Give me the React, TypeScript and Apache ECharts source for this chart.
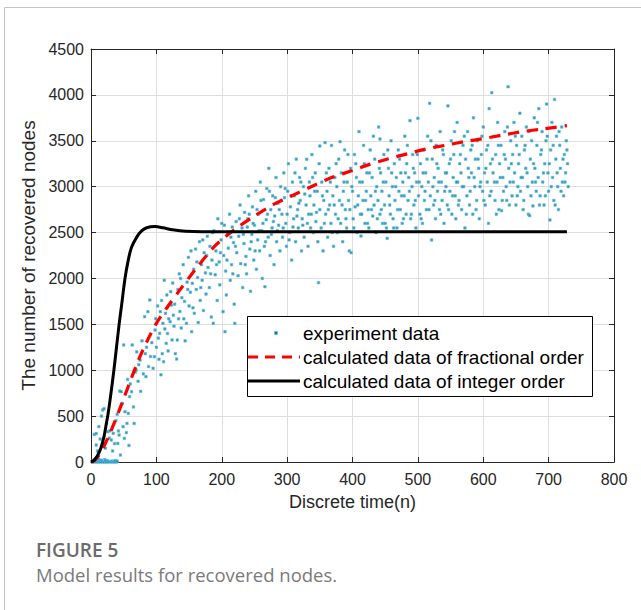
import React, { useEffect, useRef } from "react";
import * as echarts from "echarts";

const xTicks = [0, 100, 200, 300, 400, 500, 600, 700, 800];
const yTicks = [0, 500, 1000, 1500, 2000, 2500, 3000, 3500, 4000, 4500];

const legendLabels = [
  "experiment data",
  "calculated data of fractional order",
  "calculated data of integer order",
];

const captionTitle = "FIGURE 5";
const captionText = "Model results for recovered nodes.";

const fractionalCurve: [number, number][] = [
  [0, 0], [5, 15], [10, 55], [15, 110], [20, 175], [25, 250], [30, 330], [37, 450],
  [43, 560], [50, 690], [60, 880], [72, 1100], [85, 1305], [100, 1510], [118, 1700],
  [136, 1875], [160, 2100], [190, 2357], [220, 2535], [250, 2680], [280, 2810],
  [310, 2910], [340, 3010], [370, 3105], [400, 3175], [425, 3240], [455, 3305],
  [485, 3360], [512, 3410], [545, 3455], [575, 3495], [602, 3526], [630, 3563],
  [660, 3600], [690, 3628], [728, 3665],
];

const integerCurve: [number, number][] = [
  [0, 0], [5, 20], [10, 70], [15, 150], [20, 280], [23, 400], [26, 520], [30, 720],
  [35, 1000], [39, 1250], [43, 1500], [47, 1720], [52, 2000], [57, 2200], [62, 2340],
  [70, 2450], [77, 2515], [85, 2552], [98, 2565], [110, 2552], [125, 2530], [145, 2513],
  [170, 2508], [728, 2508],
];

const experimentData: [number, number][] = [
  [2, 0], [3, 10], [4, 0], [5, 25], [6, 5], [7, 40], [8, 0], [9, 15], [11, 0], [12, 30],
  [13, 10], [14, 0], [16, 20], [17, 0], [19, 5], [20, 0], [21, 25], [22, 10], [23, 0],
  [25, 15], [26, 0], [28, 5], [30, 0], [32, 10], [33, 0], [35, 5], [36, 0], [37, 15],
  [39, 0], [40, 10],
  [5, 300], [8, 185], [8, 310], [10, 120], [12, 385], [14, 250], [16, 500], [18, 567],
  [20, 581], [22, 150], [24, 420], [26, 330], [28, 260], [29, 341], [31, 240], [33, 120],
  [34, 312], [36, 200], [38, 450], [40, 520], [41, 203], [42, 338], [43, 294], [44, 773],
  [45, 76], [46, 766], [48, 640], [49, 385], [50, 1275], [51, 258], [52, 548], [54, 320],
  [55, 421], [56, 900], [57, 530], [58, 180], [59, 712], [60, 850], [62, 766], [63, 1275],
  [65, 600], [66, 420], [68, 980], [69, 1002], [70, 1200], [72, 880], [73, 1060],
  [75, 1111], [76, 770], [78, 1320], [80, 960], [82, 1583], [83, 1180], [84, 930],
  [85, 1250], [87, 1638], [88, 1040], [90, 1765], [91, 1150], [93, 1300], [95, 1021],
  [97, 1147], [98, 1438], [99, 1560], [100, 1250], [102, 1700], [104, 1120], [105, 1402],
  [106, 1638], [107, 950], [108, 1760], [110, 1511], [111, 1093], [112, 1980], [113, 1450],
  [115, 1293], [116, 1820], [118, 1210], [119, 1560], [121, 1529], [122, 1856], [124, 1330],
  [125, 1950], [126, 1600], [128, 1720], [129, 1180], [131, 1122], [132, 1329], [133, 1880],
  [135, 2050], [136, 1640], [138, 1460], [139, 1790], [141, 2150], [142, 1560], [144, 1320],
  [146, 1511], [147, 1960], [149, 2230], [150, 1700], [152, 1850], [154, 1420], [155, 1947],
  [157, 2100], [158, 1620], [160, 2320], [161, 1880], [163, 2010], [164, 1520], [166, 2400],
  [167, 1760], [169, 2150], [170, 1980], [172, 1650], [173, 2280], [175, 2060], [176, 1830],
  [178, 2460], [179, 2120], [181, 1900], [182, 2350], [184, 1580], [185, 2200], [187, 1511],
  [188, 2520], [190, 2040], [191, 2300], [193, 1760], [194, 2650], [196, 2180], [197, 1930],
  [199, 2420], [200, 2600], [202, 1638], [203, 2250], [205, 1420], [206, 2080], [207, 1820],
  [209, 2480], [210, 2330], [212, 2700], [213, 1980], [215, 2150], [216, 2560], [218, 2390],
  [219, 1720], [220, 1511], [222, 2620], [223, 2280], [225, 2030], [226, 2460], [228, 2800],
  [229, 2160], [231, 2550], [232, 1900], [234, 2380], [235, 2720], [237, 2240], [238, 2050],
  [240, 2650], [241, 2900], [243, 2320], [244, 1860], [246, 2480], [247, 2780], [249, 2200],
  [250, 2580], [252, 2950], [253, 2100], [255, 2420], [256, 2700], [258, 2300], [259, 3050],
  [261, 2520], [262, 2000], [264, 2860], [265, 2350], [266, 1910], [268, 2640], [269, 2980],
  [271, 2450], [272, 3200], [274, 2250], [275, 2750], [277, 2550], [278, 2900], [280, 2150],
  [281, 2680], [283, 3100], [284, 2400], [286, 2820], [287, 2580], [289, 2300], [290, 3000],
  [292, 2700], [293, 2450], [295, 3150], [296, 2880], [298, 2600], [299, 2350], [301, 2950],
  [302, 3250], [304, 2500], [305, 2780], [307, 2200], [308, 3050], [310, 2650], [311, 2900],
  [313, 2400], [314, 3300], [316, 2750], [317, 2550], [319, 3100], [320, 2850], [322, 2300],
  [323, 2650], [325, 3000], [326, 2450], [328, 3200], [329, 2800], [331, 2600], [332, 2350],
  [334, 3050], [335, 2900], [337, 2700], [338, 3350], [340, 2500], [341, 2800], [343, 3150],
  [344, 2620], [346, 2950], [347, 2400], [348, 1954], [349, 3250], [350, 2750], [352, 2550],
  [353, 3050], [355, 2300], [356, 2850], [358, 3480], [359, 2700], [361, 2950], [362, 2450],
  [364, 3200], [365, 2800], [367, 2600], [368, 3450], [370, 2900], [371, 2350], [373, 3100],
  [374, 2700], [376, 3000], [377, 2500], [379, 3300], [380, 2850], [382, 2600], [383, 3150],
  [385, 2400], [386, 2950], [388, 3400], [389, 2750], [391, 2550], [392, 3050], [394, 2850],
  [395, 2300], [397, 3200], [398, 2281], [400, 2950], [401, 2650], [403, 3350], [404, 2780],
  [406, 3100], [407, 2500], [409, 2900], [410, 3600], [412, 2700], [413, 2462], [415, 3050],
  [416, 2850], [418, 3250], [419, 2600], [421, 2950], [422, 3150], [424, 2750], [425, 2550],
  [427, 3400], [428, 2900], [430, 3100], [431, 2680], [433, 2800], [434, 3300], [436, 2500],
  [437, 3000], [439, 2850], [440, 3650], [442, 2700], [443, 3150], [445, 2950], [446, 2600],
  [448, 3350], [449, 2800], [451, 3050], [452, 2550], [453, 2437], [455, 3200], [456, 2900],
  [458, 2700], [459, 3500], [461, 3000], [462, 2650], [464, 3250], [465, 2850], [467, 3100],
  [468, 2550], [470, 3400], [471, 2950], [473, 2750], [474, 3150], [476, 2600], [477, 3050],
  [479, 2900], [480, 3550], [482, 2700], [483, 3250], [485, 2850], [486, 3100], [488, 3719],
  [489, 2650], [491, 3000], [492, 3350], [494, 2800], [495, 3150], [497, 2550], [498, 3050],
  [500, 3745], [501, 2900], [503, 2700], [504, 3250], [506, 3000], [507, 2600], [509, 3400],
  [510, 2850], [512, 3150], [513, 2750], [515, 3550], [516, 3050], [518, 3908], [519, 2900],
  [521, 2419], [522, 3300], [524, 2800], [525, 3100], [527, 2650], [528, 3450], [530, 2950],
  [531, 3200], [533, 2750], [534, 3600], [536, 3050], [537, 2850], [539, 3350], [540, 2600],
  [542, 3150], [543, 3000], [545, 2800], [546, 3880], [548, 3250], [549, 2950], [551, 3500],
  [552, 2700], [554, 3100], [555, 3350], [557, 2900], [558, 2650], [560, 3700], [561, 3050],
  [563, 2850], [564, 3250], [566, 3150], [567, 2750], [569, 3450], [570, 3000], [572, 2550],
  [573, 3300], [575, 2900], [576, 3600], [578, 3100], [579, 2800], [581, 3400], [582, 3150],
  [584, 2700], [585, 3750], [587, 3000], [588, 3300], [590, 2850], [591, 3500], [593, 3200],
  [594, 2650], [596, 3050], [597, 3350], [599, 2950], [600, 3650], [602, 3150], [603, 2800],
  [605, 3400], [606, 3050], [608, 2600], [609, 3850], [611, 3250], [612, 2950], [613, 4024],
  [615, 3150], [616, 3550], [618, 2850], [619, 3350], [621, 3050], [622, 3700], [624, 2750],
  [625, 3250], [627, 3450], [628, 2738], [630, 3100], [631, 2950], [633, 3600], [634, 3300],
  [636, 2850], [638, 4089], [639, 3200], [641, 3050], [642, 3500], [644, 2900], [645, 3350],
  [647, 3700], [648, 3150], [650, 2800], [651, 3450], [653, 3000], [654, 3250], [656, 3800],
  [657, 2950], [659, 3550], [660, 3100], [662, 2850], [663, 3400], [665, 3200], [666, 3650],
  [668, 3000], [669, 2700], [671, 2684], [672, 3300], [674, 3500], [675, 3050], [676, 2790],
  [678, 3750], [679, 3200], [681, 2950], [682, 3450], [684, 3100], [685, 3850], [687, 2900],
  [688, 3350], [690, 3600], [691, 3050], [693, 2800], [694, 3250], [696, 3500], [697, 3900],
  [699, 3150], [700, 2950], [702, 2637], [703, 3400], [705, 3700], [706, 3100], [708, 2850],
  [709, 3950], [711, 3300], [712, 3550], [714, 3000], [715, 2750], [717, 3450], [718, 3200],
  [720, 3650], [721, 3050], [723, 2900], [724, 3350], [726, 3150], [727, 3500], [729, 3250],
  [730, 3000],
];

const experimentDataExtra: [number, number][] = [
  [103, 1350], [109, 1180], [114, 1620], [117, 1400], [123, 1710], [127, 1480], [134, 1560],
  [137, 2000], [143, 1750], [148, 1880], [153, 2300], [156, 1680], [162, 2180], [168, 1900],
  [171, 2420], [177, 2250], [183, 2050], [186, 2500], [192, 2150], [198, 2280], [204, 2580],
  [208, 2200], [214, 2450], [217, 2050], [221, 2350], [227, 2650], [233, 2480], [236, 2150],
  [239, 2560], [242, 2700], [245, 2400], [248, 2600], [251, 2300], [254, 2750], [257, 2520],
  [260, 2850], [263, 2600], [267, 2400], [270, 2700], [273, 2950], [276, 2480], [279, 2620],
  [282, 2880], [285, 2520], [288, 2750], [291, 2850], [294, 2550], [297, 2980], [300, 2700],
  [303, 2420], [306, 2900], [309, 2560], [312, 3150], [315, 2680], [318, 2820], [321, 3050],
  [324, 2580], [327, 2920], [330, 3298], [333, 2700], [336, 2550], [339, 3100], [342, 2950],
  [345, 2720], [350, 3443], [354, 2900], [357, 2600], [360, 3150], [363, 2750], [366, 3050],
  [369, 2500], [372, 2800], [375, 3250], [378, 2650], [381, 3490], [384, 2800], [387, 3050],
  [390, 2650], [393, 3350], [396, 2750], [399, 3000], [402, 2550], [405, 3250], [408, 2800],
  [411, 3050], [414, 2700], [417, 3450], [420, 2850], [423, 2600], [426, 3150], [429, 2750],
  [432, 3550], [435, 2950], [438, 2650], [441, 3200], [442, 3519], [444, 2750], [447, 3050],
  [450, 2600], [454, 3400], [457, 2800], [460, 3150], [463, 2550], [466, 3000], [469, 2750],
  [472, 3300], [475, 2900], [478, 2650], [481, 3150], [484, 3450], [487, 2950], [490, 2700],
  [493, 3200], [496, 2850], [499, 3350], [502, 3050], [505, 2650], [508, 3150], [511, 2950],
  [514, 3300], [517, 2750], [520, 3500], [523, 3000], [526, 2850], [529, 3250], [532, 3050],
  [535, 2700], [538, 3400], [541, 2950], [544, 3150], [547, 2750], [550, 3300], [553, 2900],
  [556, 3600], [559, 3050], [562, 2800], [565, 3350], [568, 3000], [571, 3550], [574, 2700],
  [577, 3200], [580, 2950], [583, 3450], [586, 3100], [589, 2750], [592, 3300], [595, 3000],
  [598, 3550], [601, 2850], [604, 3200], [607, 3450], [610, 2900], [614, 3300], [617, 3050],
  [620, 2700], [623, 3450], [626, 3100], [629, 2850], [632, 3350], [635, 3000], [637, 3650],
  [640, 2800], [643, 3250], [646, 3050], [649, 3550], [652, 2900], [655, 3350], [658, 3100],
  [661, 2750], [664, 3450], [667, 3150], [670, 3600], [673, 2900], [677, 3250], [680, 3050],
  [683, 3700], [686, 2800], [689, 3400], [692, 3150], [695, 2900], [698, 3550], [701, 3250],
  [704, 3000], [707, 3450], [710, 2800], [713, 3150], [716, 3600], [719, 2950], [722, 3300],
  [725, 3050], [728, 3400],
];

const FONT = "Arial, 'Liberation Sans', Helvetica, sans-serif";
const CAPTION_FONT = "'Open Sans', 'Noto Sans', sans-serif";
const AXIS_COLOR = "#262626";
const POINT_FILL = "#236f9e";
const POINT_EDGE = "#52c4e2";

export default function App() {
  const ref = useRef<HTMLDivElement>(null);

  useEffect(() => {
    if (!ref.current) return;
    const chart = echarts.init(ref.current, null, { renderer: "svg" });

    const legendX = 247;
    const legendY = 316;
    const rowY = [333, 357, 381];

    const tickCommon = {
      show: true,
      inside: true,
      length: 5,
      lineStyle: { color: AXIS_COLOR, width: 1 },
    };
    const lineCommon = { show: true, onZero: false, lineStyle: { color: AXIS_COLOR, width: 1 } };
    const labelCommon = {
      fontFamily: FONT,
      fontSize: 16,
      color: AXIS_COLOR,
      margin: 9,
      formatter: (v: number) => String(v),
    };

    const option: any = {
      animation: false,
      backgroundColor: "#ffffff",
      grid: { left: 91, top: 49, right: 27, bottom: 148, containLabel: false },
      xAxis: [
        {
          type: "value",
          min: xTicks[0],
          max: xTicks[xTicks.length - 1],
          interval: xTicks[1] - xTicks[0],
          position: "bottom",
          name: "Discrete time(n)",
          nameLocation: "middle",
          nameGap: 31,
          nameTextStyle: { fontFamily: FONT, fontSize: 18, color: AXIS_COLOR },
          axisLine: lineCommon,
          axisTick: tickCommon,
          axisLabel: labelCommon,
          splitLine: { show: true, lineStyle: { color: "#dedede", width: 1 } },
        },
        {
          type: "value",
          min: xTicks[0],
          max: xTicks[xTicks.length - 1],
          interval: xTicks[1] - xTicks[0],
          position: "top",
          axisLine: lineCommon,
          axisTick: tickCommon,
          axisLabel: { show: false },
          splitLine: { show: false },
        },
      ],
      yAxis: [
        {
          type: "value",
          min: yTicks[0],
          max: yTicks[yTicks.length - 1],
          interval: yTicks[1] - yTicks[0],
          position: "left",
          name: "The number of recovered nodes",
          nameLocation: "middle",
          nameGap: 40,
          nameTextStyle: { fontFamily: FONT, fontSize: 19, color: AXIS_COLOR },
          axisLine: lineCommon,
          axisTick: tickCommon,
          axisLabel: { ...labelCommon, margin: 7 },
          splitLine: { show: true, lineStyle: { color: "#dedede", width: 1 } },
        },
        {
          type: "value",
          min: yTicks[0],
          max: yTicks[yTicks.length - 1],
          interval: yTicks[1] - yTicks[0],
          position: "right",
          axisLine: lineCommon,
          axisTick: tickCommon,
          axisLabel: { show: false },
          splitLine: { show: false },
        },
      ],
      series: [
        {
          name: legendLabels[0],
          type: "scatter",
          data: experimentData.concat(experimentDataExtra),
          symbol: "rect",
          symbolSize: 2.5,
          itemStyle: { color: POINT_FILL, borderColor: POINT_EDGE, borderWidth: 0.8 },
          z: 2,
        },
        {
          name: legendLabels[1],
          type: "line",
          data: fractionalCurve,
          showSymbol: false,
          smooth: 0.3,
          lineStyle: { color: "#ff0000", width: 3.2, type: [11, 8] },
          z: 3,
        },
        {
          name: legendLabels[2],
          type: "line",
          data: integerCurve,
          showSymbol: false,
          smooth: 0.3,
          lineStyle: { color: "#000000", width: 3 },
          z: 4,
        },
      ],
      graphic: [
        {
          type: "polyline",
          shape: { points: [[4.5, 610], [4.5, 7.5], [641, 7.5]] },
          style: { stroke: "#c4c4c4", lineWidth: 1, fill: null },
          silent: true,
        },
        {
          type: "rect",
          shape: { x: legendX + 0.5, y: legendY + 0.5, width: 345, height: 80 },
          style: { fill: "#ffffff", stroke: "#000000", lineWidth: 1 },
          z: 100,
        },
        {
          type: "rect",
          shape: { x: 274.5, y: rowY[0] - 1.5, width: 3, height: 3 },
          style: { fill: POINT_FILL, stroke: POINT_EDGE, lineWidth: 0.8 },
          z: 101,
        },
        {
          type: "line",
          shape: { x1: 248, y1: rowY[1], x2: 300, y2: rowY[1] },
          style: { stroke: "#ff0000", lineWidth: 3, lineDash: [10, 7] },
          z: 101,
        },
        {
          type: "line",
          shape: { x1: 248, y1: rowY[2], x2: 300, y2: rowY[2] },
          style: { stroke: "#000000", lineWidth: 3 },
          z: 101,
        },
        ...legendLabels.map((t, i) => ({
          type: "text",
          x: 303,
          y: rowY[i],
          style: {
            text: t,
            fontFamily: FONT,
            fontSize: 19,
            fill: "#000000",
            verticalAlign: "middle",
          },
          z: 101,
        })),
        {
          type: "text",
          x: 36,
          y: 550,
          style: {
            text: captionTitle,
            fontFamily: CAPTION_FONT,
            fontSize: 19,
            fontWeight: 600,
            fill: "#6b6b6b",
            verticalAlign: "middle",
          },
        },
        {
          type: "text",
          x: 36,
          y: 574,
          style: {
            text: captionText,
            fontFamily: CAPTION_FONT,
            fontSize: 18.5,
            fill: "#7a7a7a",
            verticalAlign: "middle",
          },
        },
      ],
    };

    chart.setOption(option);
    return () => chart.dispose();
  }, []);

  return (
    <div
      ref={ref}
      style={{ position: "fixed", left: 0, top: 0, width: 641, height: 610, background: "#fff" }}
    />
  );
}
